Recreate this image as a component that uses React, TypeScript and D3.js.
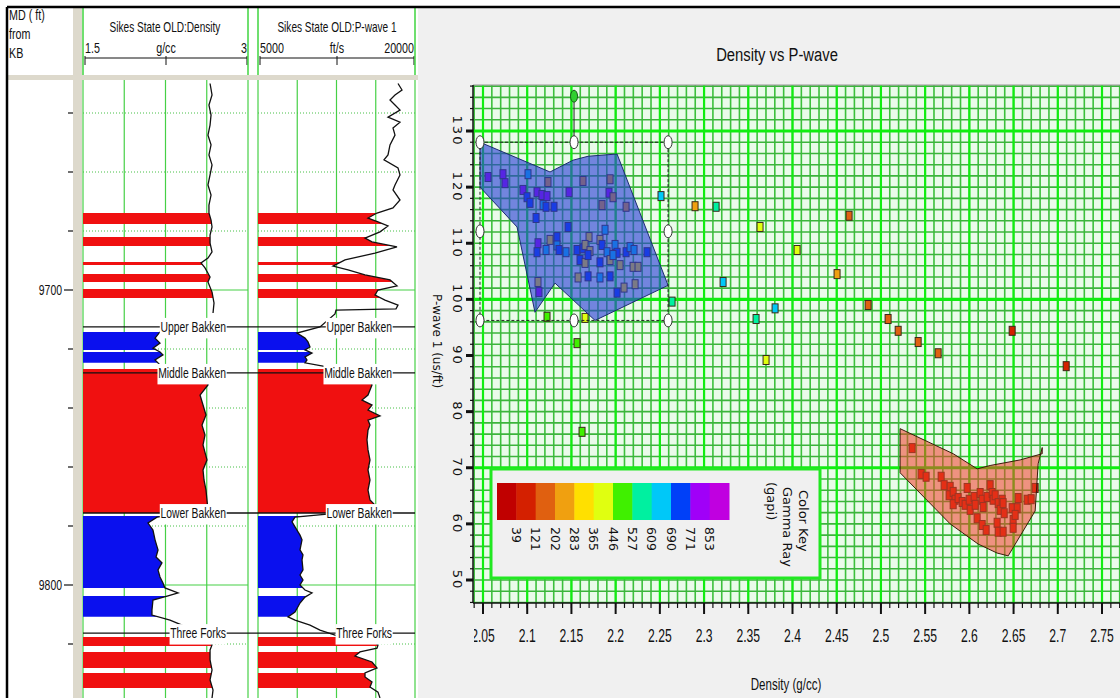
import React, { useEffect, useRef } from "react";
import * as d3 from "d3";

const W = 1120;
const H = 698;
const SANS = "'Liberation Sans', Arial, sans-serif";
const WIDE = "'DejaVu Sans', 'Liberation Sans', sans-serif";

// ---------------- well log panel ----------------
const depthMinor = [9640, 9660, 9680, 9720, 9740, 9760, 9780, 9820];
const depthMajor = [9700, 9800];

// [depth ft, density g/cc]  (null = gap in the curve)
const densityLog: [number, number | null][] = [
  [9630.0, 2.655], [9633.9, 2.673], [9637.3, 2.645], [9640.7, 2.664], [9644.1, 2.655],
  [9647.5, 2.636], [9650.8, 2.664], [9654.2, 2.645], [9657.6, 2.673], [9661.0, 2.655],
  [9664.4, 2.636], [9667.8, 2.664], [9671.2, 2.645], [9673.9, 2.645], [9676.3, 2.664],
  [9678.6, 2.673], [9681.4, 2.655], [9684.1, 2.655], [9687.1, 2.673], [9689.2, 2.636],
  [9690.8, 2.573], [9692.5, 2.609], [9695.6, 2.655], [9697.3, 2.636], [9700.7, 2.673],
  [9704.4, 2.691], [9707.8, 2.682], [9710.0, null],
  [9714.2, 2.2], [9716.3, 2.155], [9718.0, 2.2], [9719.7, 2.136], [9721.0, 2.2],
  [9722.0, 2.227], [9723.7, 2.155], [9725.4, 2.2], [9726.8, 2.382], [9728.8, 2.636],
  [9732.2, 2.636], [9735.6, 2.564], [9739.0, 2.591], [9742.4, 2.618], [9745.8, 2.582],
  [9749.2, 2.609], [9752.5, 2.591], [9757.6, 2.627], [9761.0, 2.591], [9764.4, 2.6],
  [9767.8, 2.618], [9771.2, 2.627], [9774.6, 2.636], [9775.9, 2.382], [9777.0, 2.173],
  [9779.0, 2.091], [9781.4, 2.136], [9784.7, 2.155], [9788.1, 2.182], [9790.5, 2.164],
  [9792.5, 2.218], [9794.9, 2.182], [9797.3, 2.2], [9799.3, 2.227], [9801.0, 2.245],
  [9802.7, 2.364], [9803.7, 2.273], [9805.1, 2.136], [9808.5, 2.127], [9810.2, 2.127],
  [9811.9, 2.291], [9813.6, 2.4], [9816.3, 2.518], [9818.0, 2.636], [9820.3, 2.673],
  [9822.0, 2.655], [9825.4, 2.655], [9828.8, 2.673], [9832.2, 2.655], [9835.6, 2.682],
  [9838.3, 2.673],
];

// [depth ft, P-wave ft/s]
const pwaveLog: [number, number][] = [
  [9630.0, 18376], [9632.2, 18758], [9633.9, 18089], [9635.6, 17611], [9637.3, 18089],
  [9639.0, 18567], [9641.4, 17420], [9643.1, 18567], [9645.1, 17898], [9647.5, 18089],
  [9650.8, 17611], [9654.2, 17420], [9655.9, 17038], [9658.6, 18376], [9661.0, 18567],
  [9664.4, 18089], [9666.1, 17898], [9669.5, 18567], [9672.2, 17898], [9673.9, 16369],
  [9675.6, 15510], [9676.9, 16465], [9678.3, 17420], [9680.3, 16656], [9682.4, 15223],
  [9683.7, 15892], [9685.4, 18280], [9687.5, 16178], [9689.8, 13312], [9691.9, 12166],
  [9693.2, 13599], [9694.9, 15223], [9696.6, 17611], [9698.6, 18280], [9700.0, 16465],
  [9701.7, 16178], [9703.4, 17133], [9705.1, 18376], [9706.4, 18185], [9706.8, 12452],
  [9708.1, 12357], [9712.5, 10923], [9714.6, 8726], [9716.3, 9490], [9717.6, 9777],
  [9719.3, 9968], [9720.3, 9490], [9721.4, 10159], [9722.7, 9490], [9723.7, 9681],
  [9724.7, 9490], [9725.8, 11210], [9727.1, 13312], [9729.8, 15700], [9732.2, 15892],
  [9735.6, 15509], [9737.3, 14936], [9739.0, 15892], [9740.7, 15510], [9742.7, 16656],
  [9744.1, 15510], [9745.8, 15700], [9747.5, 15510], [9750.8, 15414], [9754.2, 15510],
  [9757.6, 15700], [9761.0, 15510], [9764.4, 15700], [9767.8, 15510], [9771.2, 15700],
  [9772.9, 16178], [9774.6, 15892], [9775.9, 11879], [9777.0, 8535], [9778.6, 8248],
  [9780.3, 8535], [9783.1, 9013], [9784.7, 9204], [9788.1, 9013], [9789.8, 9299],
  [9791.5, 9204], [9794.9, 9299], [9796.6, 9013], [9798.3, 9299], [9800.0, 9013],
  [9801.7, 9490], [9802.7, 10159], [9804.1, 9490], [9806.1, 9013], [9809.2, 8535],
  [9810.8, 7866], [9811.9, 8535], [9813.6, 9968], [9815.3, 10923], [9817.0, 12357],
  [9818.0, 15700], [9820.3, 16465], [9821.4, 16369], [9822.7, 14745], [9824.1, 14267],
  [9826.1, 15892], [9828.1, 16369], [9829.8, 15223], [9831.2, 15223], [9832.9, 15892],
  [9834.6, 15700], [9836.3, 16465], [9838.3, 16656],
];

// lithology fill intervals [top, base] in ft
const redBeds: [number, number][] = [
  [9673.9, 9677.6], [9682.0, 9685.1], [9690.5, 9691.5], [9694.6, 9697.3], [9699.7, 9702.7],
  [9726.8, 9775.6], [9817.6, 9820.7], [9822.7, 9828.1], [9829.8, 9834.9],
];
const blueBeds: [number, number][] = [
  [9714.2, 9720.3], [9721.0, 9724.7], [9776.6, 9801.0], [9803.7, 9810.8],
];

const topNames = ["Upper Bakken", "Middle Bakken", "Lower Bakken", "Three Forks"];
const topDepths = [9712.5, 9728.1, 9775.6, 9816.3];

// ---------------- crossplot ----------------
const densityTicks = [2.05, 2.1, 2.15, 2.2, 2.25, 2.3, 2.35, 2.4, 2.45, 2.5, 2.55, 2.6, 2.65, 2.7, 2.75];
const slownessTicks = [50, 60, 70, 80, 90, 100, 110, 120, 130];
const slownessHeavyGrid = [130, 100, 70];
const grBreaks = [39, 121, 202, 283, 365, 446, 527, 609, 690, 771, 853];
const grColors = [
  "#c00000", "#d42000", "#e06010", "#f0a010", "#ffe000", "#e0ff10",
  "#40f000", "#00f0a0", "#00c8f8", "#0040f8", "#a000f8", "#c000e0",
];

// polygons [density, slowness]
const blueZone: [number, number][] = [
  [2.0466, 128.0], [2.1258, 122.7], [2.1518, 124.8], [2.1688, 125.5], [2.2016, 125.9],
  [2.2593, 102.5], [2.1767, 96.25], [2.1314, 102.9], [2.1088, 97.7], [2.0885, 112.9],
  [2.0466, 120.0],
];
const redZone: [number, number][] = [
  [2.5217, 76.96], [2.5817, 72.5], [2.6088, 69.8], [2.6235, 70.4], [2.6575, 71.4],
  [2.6824, 72.5], [2.6824, 73.6], [2.6778, 70.7], [2.6744, 62.3], [2.6439, 54.3],
  [2.6314, 54.8], [2.61, 56.4], [2.5783, 60.0], [2.5217, 69.1],
];

// points [density, slowness us/ft, gamma ray]
const blueCluster: [number, number, number][] = [
  [2.0557, 121.8, 820], [2.0726, 122.3, 820], [2.0749, 120.7, 820], [2.1009, 122.3, 650],
  [2.1235, 120.9, 230], [2.0952, 119.5, 820], [2.0998, 118.2, 730], [2.1111, 119.1, 820],
  [2.1167, 118.6, 820], [2.1224, 118.4, 820], [2.1032, 117.2, 730], [2.1179, 116.8, 650],
  [2.1213, 116.5, 730], [2.1303, 116.5, 730], [2.11, 114.5, 730], [2.1473, 119.1, 820],
  [2.1631, 121.1, 230], [2.1937, 121.4, 230], [2.1925, 119.0, 820], [2.197, 118.2, 230],
  [2.1846, 116.8, 230], [2.2118, 116.5, 230], [2.1462, 112.9, 730], [2.188, 112.4, 650],
  [2.1337, 111.1, 730], [2.1699, 111.1, 300], [2.1122, 110.0, 820], [2.1111, 108.4, 730],
  [2.1258, 110.6, 300], [2.1213, 108.8, 650], [2.1337, 109.6, 650], [2.136, 108.8, 730],
  [2.1439, 108.4, 650], [2.1563, 108.8, 730], [2.1631, 109.1, 730], [2.1654, 109.7, 300],
  [2.171, 108.6, 300], [2.1823, 110.6, 300], [2.1846, 109.7, 730], [2.1903, 108.4, 650],
  [2.1993, 109.7, 650], [2.2016, 108.3, 730], [2.2118, 108.4, 730], [2.2163, 109.3, 650],
  [2.2208, 108.8, 650], [2.2355, 108.4, 730], [2.1597, 107.0, 730], [2.1654, 106.5, 300],
  [2.1688, 107.9, 730], [2.1823, 106.6, 730], [2.1937, 107.0, 300], [2.197, 107.9, 650],
  [2.205, 106.1, 300], [2.2197, 105.8, 300], [2.2253, 105.8, 300], [2.1575, 103.9, 300],
  [2.1688, 104.1, 730], [2.1823, 103.9, 650], [2.1937, 104.1, 730], [2.2016, 101.2, 730],
  [2.2095, 102.1, 300], [2.222, 102.7, 300], [2.1122, 103.1, 300], [2.1133, 101.3, 820],
];

const redCluster: [number, number, number][] = [
  [2.5353, 73.5, 90], [2.5455, 68.9, 80], [2.5511, 68.4, 90], [2.5681, 68.4, 80],
  [2.5715, 66.9, 70], [2.5783, 66.6, 90], [2.5771, 65.1, 60], [2.5817, 65.7, 80],
  [2.5839, 64.3, 70], [2.5817, 63.5, 90], [2.5873, 64.6, 60], [2.5919, 63.9, 80],
  [2.5975, 66.4, 90], [2.5952, 63.4, 70], [2.5998, 64.3, 80], [2.6009, 62.5, 60],
  [2.6054, 64.8, 90], [2.6066, 63.4, 70], [2.6088, 61.0, 80], [2.6122, 65.5, 60],
  [2.6145, 64.3, 90], [2.6156, 63.0, 70], [2.6145, 59.8, 80], [2.619, 58.9, 90],
  [2.6201, 64.8, 60], [2.6235, 66.9, 80], [2.6258, 65.5, 70], [2.6269, 64.3, 90],
  [2.6292, 65.1, 80], [2.6326, 63.7, 60], [2.6348, 62.5, 90], [2.6314, 60.2, 70],
  [2.6326, 58.6, 80], [2.6382, 58.6, 90], [2.6371, 64.3, 60], [2.6394, 61.9, 80],
  [2.6382, 63.7, 70], [2.6484, 62.8, 90], [2.6495, 60.7, 80], [2.6495, 59.3, 60],
  [2.6541, 62.8, 90], [2.6518, 61.6, 70], [2.6552, 64.6, 80], [2.6654, 64.3, 90],
  [2.6699, 64.4, 80], [2.6744, 66.4, 70],
];

const scattered: [number, number, number][] = [
  [2.1224, 96.9, 480], [2.1654, 96.7, 400], [2.1563, 92.2, 500], [2.162, 76.4, 500],
  [2.2513, 118.4, 650], [2.2898, 116.6, 250], [2.3136, 116.5, 570], [2.2638, 99.6, 570],
  [2.3633, 112.9, 370], [2.464, 114.9, 200], [2.4052, 108.8, 370], [2.4504, 104.5, 260],
  [2.3215, 103.1, 650], [2.3803, 98.4, 650], [2.3588, 96.5, 570], [2.4855, 99.0, 180],
  [2.5081, 96.5, 170], [2.5195, 94.4, 190], [2.5421, 92.4, 180], [2.5647, 90.4, 190],
  [2.3701, 89.2, 380], [2.6484, 94.4, 100], [2.7095, 88.1, 90],
];

// horizontally squeezed text, like the narrow UI font of the source
function NT({ x, y, size, sx, anchor = "start", children }: any) {
  return (
    <text transform={`translate(${x},${y}) scale(${sx},1)`} fontSize={size}
      textAnchor={anchor} fontFamily={SANS} fill="#111">
      {children}
    </text>
  );
}

export default function App() {
  const labelRef = useRef<SVGGElement>(null);

  // white boxes behind formation-top labels sized from the rendered text
  useEffect(() => {
    if (!labelRef.current) return;
    d3.select(labelRef.current)
      .selectAll<SVGGElement, unknown>("g.top-label")
      .each(function () {
        const t = this.querySelector("text") as SVGTextElement;
        const b = t.getBBox();
        d3.select(this).select("rect")
          .attr("x", b.x - 1).attr("y", b.y)
          .attr("width", b.width + 2).attr("height", b.height + 3);
      });
  }, []);

  // log scales
  const yD = d3.scaleLinear().domain([9700, 9800]).range([290, 585]);
  const xRho = d3.scaleLinear().domain([1.5, 3]).range([83, 248]);
  const xVp = d3.scaleLinear().domain([5000, 20000]).range([258, 415]);

  const rhoArea = d3.area<[number, number | null]>()
    .defined(d => d[1] != null)
    .y(d => yD(d[0]))
    .x0(xRho(1.5))
    .x1(d => xRho(d[1] as number));
  const rhoLine = d3.line<[number, number | null]>()
    .defined(d => d[1] != null)
    .x(d => xRho(d[1] as number))
    .y(d => yD(d[0]));
  const vpArea = d3.area<[number, number]>()
    .y(d => yD(d[0]))
    .x0(xVp(5000))
    .x1(d => xVp(d[1]));
  const vpLine = d3.line<[number, number]>()
    .x(d => xVp(d[1]))
    .y(d => yD(d[0]));

  const beds = [
    ...redBeds.map(b => ({ b, color: "#f01010" })),
    ...blueBeds.map(b => ({ b, color: "#0a10ee" })),
  ];

  // crossplot scales
  const px = d3.scaleLinear().domain([2.05, 2.75]).range([483, 1102]);
  const py = d3.scaleLinear().domain([50, 130]).range([580, 131]);
  const plot = { l: 473, r: W, t: 85, b: 603 };
  const grColor = d3.scaleThreshold<number, string>().domain(grBreaks).range(grColors);

  const minorX = d3.range(204, 278).map(v => v / 100);
  const minorY = d3.range(46, 140, 2);
  const poly = d3.line<[number, number]>().x(d => px(d[0])).y(d => py(d[1]));

  const bx = d3.extent(blueZone, d => d[0]) as [number, number];
  const by = d3.extent(blueZone, d => d[1]) as [number, number];
  const box = { l: px(bx[0]), r: px(bx[1]), t: py(by[1]), b: py(by[0]) };
  const boxMid = { x: (box.l + box.r) / 2, y: (box.t + box.b) / 2 };
  const handles = [
    [box.l, box.t], [boxMid.x, box.t], [box.r, box.t],
    [box.l, boxMid.y], [box.r, boxMid.y],
    [box.l, box.b], [boxMid.x, box.b], [box.r, box.b],
  ];

  const swatch = d3.scaleBand<number>().domain(d3.range(grColors.length)).range([497, 729]);

  const allPoints = [...blueCluster, ...redCluster, ...scattered];

  return (
    <svg width={W} height={H} style={{ position: "absolute", left: 0, top: 0 }}>
      <defs>
        {beds.map((d, i) => (
          <clipPath id={`bed${i}`} key={i}>
            <rect x={0} y={yD(d.b[0])} width={420} height={yD(d.b[1]) - yD(d.b[0])} />
          </clipPath>
        ))}
        <clipPath id="plotClip">
          <rect x={plot.l} y={plot.t} width={plot.r - plot.l} height={plot.b - plot.t} />
        </clipPath>
        <clipPath id="xlabClip">
          <rect x={474} y={600} width={W - 474} height={60} />
        </clipPath>
      </defs>

      {/* ---------- left: log panel ---------- */}
      <rect x={0} y={0} width={W} height={H} fill="#ffffff" />
      <rect x={418} y={8} width={W - 418} height={H - 8} fill="#f0f0f0" />
      <rect x={73} y={8} width={9} height={H - 8} fill="#ddd9cc" />
      <rect x={8} y={75} width={410} height={5} fill="#ddd9cc" />

      <NT x={9} y={20} size={14.5} sx={0.74}>MD ( ft)</NT>
      <NT x={9} y={39} size={14.5} sx={0.74}>from</NT>
      <NT x={9} y={58} size={14.5} sx={0.74}>KB</NT>
      <NT x={165} y={32} size={14} sx={0.72} anchor="middle">Sikes State OLD:Density</NT>
      <NT x={85} y={53} size={14.5} sx={0.74}>1.5</NT>
      <NT x={166} y={53} size={14.5} sx={0.74} anchor="middle">g/cc</NT>
      <NT x={247} y={53} size={14.5} sx={0.74} anchor="end">3</NT>
      <NT x={337} y={32} size={14} sx={0.72} anchor="middle">Sikes State OLD:P-wave 1</NT>
      <NT x={260} y={53} size={14.5} sx={0.74}>5000</NT>
      <NT x={337} y={53} size={14.5} sx={0.74} anchor="middle">ft/s</NT>
      <NT x={414} y={53} size={14.5} sx={0.74} anchor="end">20000</NT>

      <g stroke="#111" strokeWidth={1}>
        <line x1={85} x2={247} y1={58} y2={58} />
        {[85, 166, 247].map(x => <line key={x} x1={x} x2={x} y1={56} y2={65} />)}
        <line x1={260} x2={414} y1={58} y2={58} />
        {[260, 337, 414].map(x => <line key={x} x1={x} x2={x} y1={56} y2={65} />)}
      </g>
      {/* header edge lines */}
      <g stroke="#3fd43f" strokeWidth={1.5}>
        {[xRho(1.5), xRho(3), xVp(5000), xVp(20000)].map(x => (
          <line key={x} x1={x} x2={x} y1={8} y2={75} />
        ))}
      </g>

      {/* track grids */}
      <g>
        {[xRho, xVp].map((s, k) => {
          const [a, b] = s.domain();
          const xs = d3.range(5).map(i => s(a + ((b - a) * i) / 4));
          return (
            <g key={k}>
              {xs.map(x => (
                <line key={x} x1={x} x2={x} y1={80} y2={H} stroke="#46d046" strokeWidth={1.2} />
              ))}
              {depthMinor.map(d => (
                <line key={d} x1={xs[0]} x2={xs[4]} y1={yD(d)} y2={yD(d)} stroke="#46c046"
                  strokeWidth={1} strokeDasharray="1,2" />
              ))}
              {depthMajor.map(d => (
                <line key={d} x1={xs[0]} x2={xs[4]} y1={yD(d)} y2={yD(d)} stroke="#46d046" strokeWidth={1.2} />
              ))}
            </g>
          );
        })}
      </g>

      {/* depth track ticks */}
      <g stroke="#111" strokeWidth={1.2}>
        {depthMinor.map(d => <line key={d} x1={68} x2={73} y1={yD(d)} y2={yD(d)} />)}
        {depthMajor.map(d => <line key={d} x1={64} x2={73} y1={yD(d)} y2={yD(d)} />)}
      </g>
      {depthMajor.map(d => (
        <NT key={d} x={62} y={yD(d) + 5} size={14.5} sx={0.72} anchor="end">{d}</NT>
      ))}

      {/* lithology fills */}
      {beds.map((d, i) => (
        <g key={i} clipPath={`url(#bed${i})`}>
          <path d={rhoArea(densityLog) || ""} fill={d.color} />
          <path d={vpArea(pwaveLog) || ""} fill={d.color} />
        </g>
      ))}

      {/* curves */}
      <path d={rhoLine(densityLog) || ""} fill="none" stroke="#111" strokeWidth={1.3} />
      <path d={vpLine(pwaveLog) || ""} fill="none" stroke="#111" strokeWidth={1.3} />

      {/* formation tops */}
      <g ref={labelRef}>
        {topNames.map((name, i) => {
          const y = yD(topDepths[i]);
          return (
            <g key={name}>
              <line x1={xRho(1.5)} x2={xVp(20000)} y1={y} y2={y} stroke="#111" strokeWidth={1.4} />
              {[226, 392].map(x => (
                <g className="top-label" key={x} transform={`translate(${x},${y + 5}) scale(0.69,1)`}>
                  <rect fill="#ffffff" />
                  <text x={0} y={0} textAnchor="end" fontFamily={SANS} fontSize={15} fill="#111">
                    {name}
                  </text>
                </g>
              ))}
            </g>
          );
        })}
      </g>

      {/* ---------- right: crossplot ---------- */}
      <NT x={777} y={61} size={19} sx={0.78} anchor="middle">Density vs P-wave</NT>

      <g clipPath="url(#plotClip)">
        <rect x={plot.l} y={plot.t} width={plot.r - plot.l} height={plot.b - plot.t} fill="#eafbea" />
        {minorX.map(v => (
          <line key={v} x1={px(v)} x2={px(v)} y1={plot.t} y2={plot.b} stroke="#3cc03c" strokeWidth={1.6} />
        ))}
        {minorY.map(v => (
          <line key={v} x1={plot.l} x2={plot.r} y1={py(v)} y2={py(v)} stroke="#3cb43c" strokeWidth={1.6} />
        ))}
        {densityTicks.map(v => (
          <line key={v} x1={px(v)} x2={px(v)} y1={plot.t} y2={plot.b} stroke="#10ee10" strokeWidth={2.2} />
        ))}
        {slownessHeavyGrid.map(v => (
          <line key={v} x1={plot.l} x2={plot.r} y1={py(v)} y2={py(v)} stroke="#10ee10" strokeWidth={3.2} />
        ))}

        {allPoints.map((d, i) => (
          <rect key={i} x={px(d[0]) - 3} y={py(d[1]) - 4.5} width={6} height={9}
            fill={grColor(d[2])} stroke="#3a2a1a" strokeWidth={1} />
        ))}

        <path d={(poly(blueZone) || "") + "Z"} fill="rgba(40,60,215,0.62)" stroke="#1c2a70" strokeWidth={1} />
        <path d={(poly(redZone) || "") + "Z"} fill="rgba(240,60,40,0.55)" stroke="#3a1a0a" strokeWidth={1} />

        {/* selection handles on the blue polygon */}
        <rect x={box.l} y={box.t} width={box.r - box.l} height={box.b - box.t}
          fill="none" stroke="#222" strokeWidth={1} strokeDasharray="3,2" />
        <line x1={boxMid.x} x2={boxMid.x} y1={box.t - 40} y2={box.t} stroke="#222" strokeWidth={1} />
        <ellipse cx={boxMid.x} cy={box.t - 46} rx={3.5} ry={6} fill="#30d030" stroke="#1a5a1a" />
        {handles.map((h, i) => (
          <ellipse key={i} cx={h[0]} cy={h[1]} rx={4} ry={6.5} fill="#ffffff" stroke="#333" strokeWidth={1} />
        ))}

        {/* color key */}
        <rect x={491} y={469} width={329} height={109} fill="#f0f0f0" stroke="#22e822" strokeWidth={3} />
      </g>
      <line x1={plot.l} x2={plot.r} y1={plot.t} y2={plot.t} stroke="#999" strokeWidth={1} />

      {grColors.map((c, i) => (
        <rect key={i} x={swatch(i)} y={483} width={swatch.bandwidth() + 0.5} height={37} fill={c} />
      ))}
      <g fontFamily={WIDE} fontSize={12.5} fill="#111">
        {grBreaks.map((v, i) => (
          <text key={v} transform={`translate(${(swatch(i + 1) as number)},527) rotate(90)`}
            dominantBaseline="central">{v}</text>
        ))}
        <text transform="translate(803,490) rotate(90)" dominantBaseline="central" fontSize={13}>Color Key</text>
        <text transform="translate(787,487) rotate(90)" dominantBaseline="central" fontSize={13}>Gamma Ray</text>
        <text transform="translate(771,482) rotate(90)" dominantBaseline="central" fontSize={13}>(gapi)</text>
      </g>

      {/* axes */}
      <g stroke="#111">
        <line x1={plot.l} x2={plot.l} y1={plot.t} y2={plot.b} strokeWidth={1.5} />
        <line x1={plot.l} x2={plot.r} y1={plot.b} y2={plot.b} strokeWidth={1.5} />
        {minorY.filter(v => v % 10 !== 0).map(v => (
          <line key={v} x1={plot.l - 3} x2={plot.l} y1={py(v)} y2={py(v)} strokeWidth={1.2} />
        ))}
        {slownessTicks.map(v => (
          <line key={v} x1={plot.l - 7} x2={plot.l} y1={py(v)} y2={py(v)} strokeWidth={3} />
        ))}
        {minorX.filter(v => px(v) > plot.l).map(v => (
          <line key={v} x1={px(v)} x2={px(v)} y1={plot.b} y2={plot.b + 5} strokeWidth={1.2} />
        ))}
        {densityTicks.map(v => (
          <line key={v} x1={px(v)} x2={px(v)} y1={plot.b} y2={plot.b + 11} strokeWidth={2} />
        ))}
      </g>
      <g clipPath="url(#xlabClip)">
        {densityTicks.map(v => (
          <NT key={v} x={px(v)} y={642} size={19} sx={0.64} anchor="middle">{String(v)}</NT>
        ))}
      </g>
      <g fontFamily={WIDE} fontSize={13} fill="#111" letterSpacing={2}>
        {slownessTicks.map(v => (
          <text key={v} transform={`translate(457,${py(v)}) rotate(90)`} textAnchor="middle"
            dominantBaseline="central">{v}</text>
        ))}
      </g>
      <text transform="translate(437,341) rotate(90)" textAnchor="middle" dominantBaseline="central"
        fontFamily={WIDE} fontSize={12} fill="#111">P-wave 1 (us/ft)</text>
      <NT x={786} y={690} size={17} sx={0.68} anchor="middle">Density (g/cc)</NT>

      {/* outer frame */}
      <line x1={7} x2={W} y1={7} y2={7} stroke="#000" strokeWidth={2.5} />
      <line x1={7} x2={7} y1={7} y2={H} stroke="#000" strokeWidth={2.5} />
    </svg>
  );
}
